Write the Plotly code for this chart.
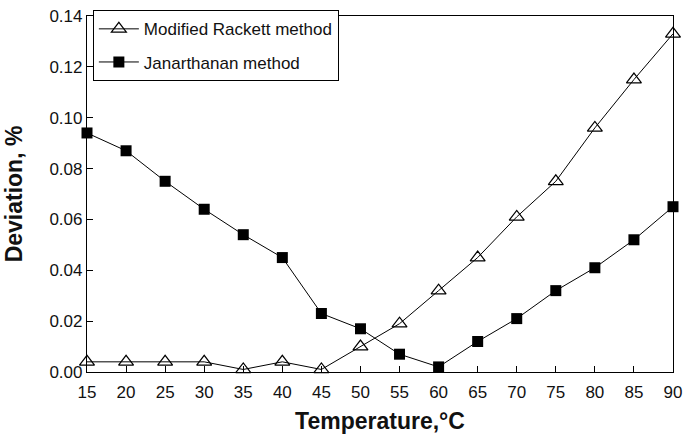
import plotly.graph_objects as go

temperature = [15, 20, 25, 30, 35, 40, 45, 50, 55, 60, 65, 70, 75, 80, 85, 90]
rackett = [0.004, 0.004, 0.004, 0.004, 0.001, 0.004, 0.001, 0.010, 0.019, 0.032,
           0.045, 0.061, 0.075, 0.096, 0.115, 0.133]
janarthanan = [0.094, 0.087, 0.075, 0.064, 0.054, 0.045, 0.023, 0.017, 0.007, 0.002,
               0.012, 0.021, 0.032, 0.041, 0.052, 0.065]

font = "Liberation Sans, Arial, sans-serif"

fig = go.Figure()
fig.add_trace(go.Scatter(
    x=temperature, y=rackett, mode="lines+markers", name="Modified Rackett method",
    legendgroup="a",
    line=dict(color="black", width=1),
    marker=dict(symbol="triangle-up-open", size=13, color="black", line=dict(width=1.2)),
    cliponaxis=False,
))
fig.add_trace(go.Scatter(
    x=temperature, y=janarthanan, mode="lines+markers", name="Janarthanan method",
    legendgroup="b",
    line=dict(color="black", width=1),
    marker=dict(symbol="square", size=11, color="black"),
    cliponaxis=False,
))

fig.update_layout(
    width=683, height=434,
    margin=dict(l=87, r=10, t=11, b=62),
    plot_bgcolor="white", paper_bgcolor="white",
    font=dict(family=font, size=17, color="#111"),
    showlegend=True,
    legend=dict(
        x=0.01, y=1.016, xanchor="left", yanchor="top",
        bordercolor="black", borderwidth=1, bgcolor="white",
        font=dict(size=17, family=font), tracegroupgap=8,
        itemwidth=40,
    ),
    xaxis=dict(
        range=[15, 90], tickmode="linear", tick0=15, dtick=5,
        showline=True, linecolor="black", linewidth=1.2, mirror=True,
        ticks="inside", ticklen=6, tickcolor="black", showgrid=False, zeroline=False,
        ticklabelstandoff=4, automargin=False,
        title=dict(text="<b>Temperature,°C</b>", font=dict(size=23, family=font), standoff=12),
        tickfont=dict(size=17),
    ),
    yaxis=dict(
        range=[0, 0.14], tickmode="linear", tick0=0, dtick=0.02, tickformat=".2f",
        showline=True, linecolor="black", linewidth=1.2, mirror=True,
        ticks="inside", ticklen=6, tickcolor="black", showgrid=False, zeroline=False,
        automargin=False,
        title=dict(text="<b>Deviation, %</b>", font=dict(size=23, family=font), standoff=20),
        tickfont=dict(size=17),
    ),
)

fig.write_html("out.html")
